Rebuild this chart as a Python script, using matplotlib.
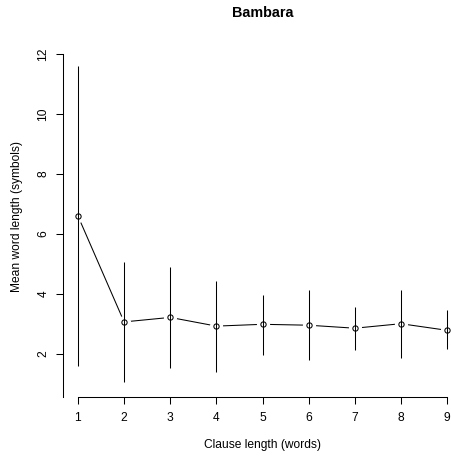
import matplotlib
matplotlib.use("Agg")
import matplotlib.pyplot as plt

plt.rcParams['font.family'] = ['Liberation Sans', 'DejaVu Sans']

clause_len = [1, 2, 3, 4, 5, 6, 7, 8, 9]
mean_len = [6.60, 3.07, 3.22, 2.93, 2.99, 2.96, 2.86, 3.01, 2.79]
lower = [1.60, 1.07, 1.52, 1.41, 1.96, 1.80, 2.13, 1.86, 2.16]
upper = [11.60, 5.07, 4.89, 4.44, 3.98, 4.13, 3.58, 4.13, 3.47]
yticks = [2, 4, 6, 8, 10, 12]

W, H = 451, 458
fig = plt.figure(figsize=(W / 100, H / 100), dpi=100)
left, right, top, bottom = 63.2, 461.8, 36, 397
ax = fig.add_axes([left / W, (H - bottom) / H, (right - left) / W, (bottom - top) / H])

lw = 0.75
ax.plot(clause_len, mean_len, color='black', lw=lw, zorder=1)
ax.plot(clause_len, mean_len, linestyle='none', marker='o', markersize=9.5,
        markerfacecolor='white', markeredgecolor='none', zorder=2)
ax.vlines(clause_len, lower, upper, colors='black', lw=lw, zorder=3)
ax.plot(clause_len, mean_len, linestyle='none', marker='o', markersize=3.8,
        markerfacecolor='none', markeredgecolor='black', markeredgewidth=lw, zorder=4)

ax.set_xlim(0.68, 9.32)
ax.set_ylim(0.567, 12.6)
ax.set_xticks(clause_len)
ax.set_xticklabels([str(c) for c in clause_len])
ax.set_yticks(yticks)
ax.set_yticklabels([str(t) for t in yticks], rotation=90, va='center')

for s in ['top', 'right']:
    ax.spines[s].set_visible(False)
ax.spines['left'].set_bounds(0.567, 12)
ax.spines['bottom'].set_bounds(1, 9)
for s in ['left', 'bottom']:
    ax.spines[s].set_linewidth(lw)
ax.tick_params(axis='both', length=5, width=lw, labelsize=8.64, color='black')
ax.tick_params(axis='x', pad=5.5)
ax.tick_params(axis='y', pad=5)

cx = (left + right) / 2
fig.text(cx / W, 1 - 13 / H, 'Bambara', ha='center', va='center',
         fontsize=10.37, fontweight='bold')
fig.text(cx / W, 1 - 445 / H, 'Clause length (words)', ha='center', va='center',
         fontsize=8.64)
fig.text(17 / W, 1 - 216.5 / H, 'Mean word length (symbols)', ha='center', va='center',
         rotation=90, fontsize=8.64)

fig.savefig('out.png', dpi=100)
